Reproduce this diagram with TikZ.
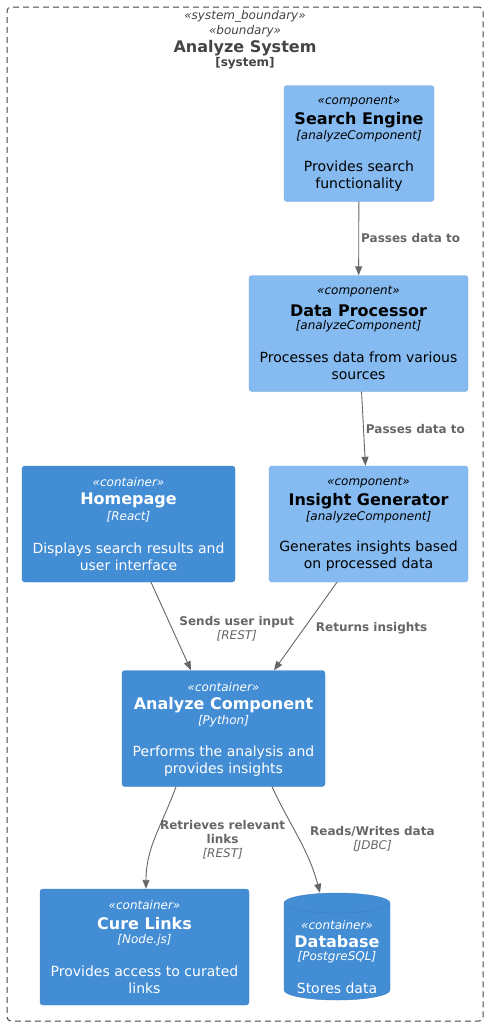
\documentclass[tikz,border=0pt]{standalone}
\usepackage{fontspec}
\setmainfont{DejaVu Sans}
\usetikzlibrary{arrows.meta,positioning}
\definecolor{c4comp}{HTML}{85BBF0}
\definecolor{c4compline}{HTML}{78A8D8}
\definecolor{c4cont}{HTML}{438DD5}
\definecolor{c4contline}{HTML}{3C7FC0}
\definecolor{c4rel}{HTML}{666666}
\definecolor{c4bound}{HTML}{444444}

\tikzset{
  compbox/.style={draw=c4compline, fill=c4comp, rounded corners=3pt,
    minimum height=116pt, inner sep=0pt},
  contbox/.style={draw=c4contline, fill=c4cont, rounded corners=3pt,
    minimum height=116pt, inner sep=0pt},
  boundbox/.style={draw=c4bound, line width=1pt, dash pattern=on 6pt off 4pt,
    rounded corners=4pt, inner sep=0pt},
  stereotxt/.style={font=\fontsize{12}{14}\selectfont\itshape, inner sep=0pt},
  titletxt/.style={font=\fontsize{16}{18}\selectfont\bfseries, inner sep=0pt},
  techtxt/.style={font=\fontsize{12}{14}\selectfont\itshape, inner sep=0pt},
  desctxt/.style={font=\fontsize{14}{17}\selectfont, align=center, inner sep=0pt},
  relline/.style={draw=c4rel, line width=0.9pt,
    -{Triangle[length=9pt,width=7pt]}},
  rellabel/.style={text=c4rel, font=\fontsize{12}{14}\selectfont,
    align=center, inner sep=2pt}
}

% texts inside a box, measured from its top edge
\newcommand{\boxlines}[6]{%
  \node[stereotxt, text=#2] (#1-st) at ([yshift=-16.5pt]#1.north) {«#3»};
  \node[titletxt, text=#2] (#1-ti) at ([yshift=-35pt]#1.north) {#4};
  \node[techtxt, text=#2] (#1-te) at ([yshift=-51pt]#1.north) {[#5]};
  \node[desctxt, text=#2] (#1-de) at ([yshift=-90.5pt]#1.north) {#6};
}

\begin{document}
\begin{tikzpicture}[x=1pt, y=-1pt]
\useasboundingbox (0,0) rectangle (489,1026);

% System boundary
\node[boundbox, minimum width=476pt, minimum height=1014pt] (sys) at (245,514) {};
\node[stereotxt, text=c4bound] (sys-st) at (245,16.5) {«system\_boundary»};
\node[stereotxt, text=c4bound] (sys-bd) at (245,31.5) {«boundary»};
\node[titletxt, text=c4bound] (sys-ti) at (245,48) {Analyze System};
\node[font=\fontsize{12}{14}\selectfont\bfseries, text=c4bound, inner sep=0pt]
  (sys-te) at (245,63) {[system]};

% Components
\node[compbox, minimum width=150pt] (se) at (359,143.5) {};
\boxlines{se}{black}{component}{Search Engine}{analyzeComponent}
  {Provides search\\functionality}

\node[compbox, minimum width=219pt] (dp) at (358.5,333.5) {};
\boxlines{dp}{black}{component}{Data Processor}{analyzeComponent}
  {Processes data from various\\sources}

\node[compbox, minimum width=199pt] (ig) at (368.5,524) {};
\boxlines{ig}{black}{component}{Insight Generator}{analyzeComponent}
  {Generates insights based\\on processed data}

% Containers
\node[contbox, minimum width=213pt] (hp) at (128.5,524) {};
\boxlines{hp}{white}{container}{Homepage}{React}
  {Displays search results and\\user interface}

\node[contbox, minimum width=203pt] (ac) at (223.5,728.5) {};
\boxlines{ac}{white}{container}{Analyze Component}{Python}
  {Performs the analysis and\\provides insights}

\node[contbox, minimum width=209pt] (cl) at (144.5,947) {};
\boxlines{cl}{white}{container}{Cure Links}{Node.js}
  {Provides access to curated\\links}

% Database drum
\node[minimum width=106pt, minimum height=107pt, inner sep=0pt] (db) at (337,946.5) {};
\path[draw=c4contline, fill=c4cont] (284,903) -- (284,990)
  arc[start angle=180, end angle=360, x radius=53pt, y radius=10pt]
  -- (390,903)
  arc[start angle=0, end angle=180, x radius=53pt, y radius=10pt] -- cycle;
\draw[c4contline] (284,903)
  arc[start angle=180, end angle=360, x radius=53pt, y radius=10pt];
\node[stereotxt, text=white] (db-st) at (337,925) {«container»};
\node[titletxt, text=white] (db-ti) at (337,941.5) {Database};
\node[techtxt, text=white] (db-te) at (337,957.5) {[PostgreSQL]};
\node[desctxt, text=white] (db-de) at (337,988) {Stores data};

% Relations
\draw[relline] (se) -- node[rellabel, right] (l-se) {\textbf{Passes data to}} (dp);
\draw[relline] (dp) -- node[rellabel, right] (l-dp) {\textbf{Passes data to}} (ig);
\draw[relline] ([xshift=22.5pt]hp.south) -- node[rellabel, right, xshift=6pt, yshift=-2pt] (l-hp)
  {\textbf{Sends user input}\\\textit{[REST]}} ([xshift=-32.5pt]ac.north);
\draw[relline] ([xshift=-31.5pt]ig.south) -- node[rellabel, right, xshift=8pt, yshift=-2pt] (l-ig)
  {\textbf{Returns insights}} ([xshift=50.5pt]ac.north);
\draw[relline] ([xshift=-47.5pt]ac.south) to[out=-110, in=90]
  node[rellabel, right, xshift=2pt, yshift=-2.5pt] (l-cl)
  {\textbf{Retrieves relevant}\\\textbf{links}\\\textit{[REST]}}
  ([xshift=1.5pt]cl.north);
\draw[relline] ([xshift=48.5pt]ac.south) to[out=-65, in=105]
  node[rellabel, right, xshift=9pt] (l-db) {\textbf{Reads/Writes data}\\\textit{[JDBC]}}
  ([xshift=-17pt]db.north);
\end{tikzpicture}
\end{document}
